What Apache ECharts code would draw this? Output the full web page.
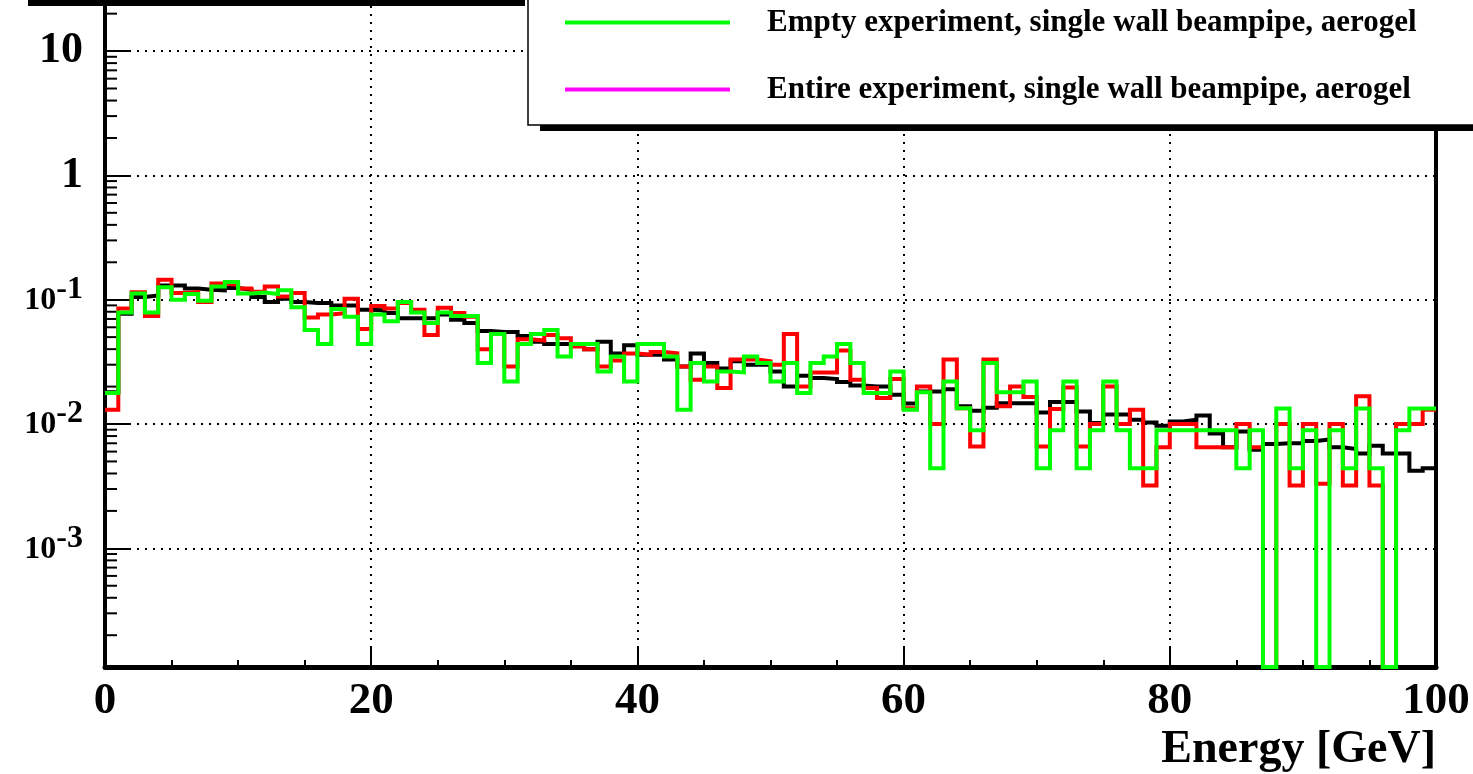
<!DOCTYPE html>
<html lang="en">
<head>
    <meta charset="UTF-8">
    <title>Energy spectrum</title>
    <script src="https://cdn.jsdelivr.net/npm/echarts@6/dist/echarts.min.js"></script>
    <style>
        html, body { margin: 0; padding: 0; background: #fff; }
        #chart { width: 1473px; height: 774px; }
    </style>
</head>
<body>
    <div id="chart"></div>
    <script>
        // per-bin content, 100 bins of 1 GeV from 0 to 100
        const blackHist = [
            0.018, 0.077, 0.105, 0.108, 0.130, 0.130, 0.123, 0.120, 0.119, 0.124,
            0.120, 0.105, 0.096, 0.102, 0.096, 0.094, 0.094, 0.090, 0.090, 0.083,
            0.082, 0.078, 0.071, 0.071, 0.071, 0.076, 0.069, 0.065, 0.056, 0.055,
            0.055, 0.051, 0.046, 0.044, 0.044, 0.043, 0.040, 0.046, 0.037, 0.043,
            0.036, 0.036, 0.033, 0.029, 0.037, 0.031, 0.028, 0.032, 0.030, 0.030,
            0.0265, 0.020, 0.0244, 0.0234, 0.023, 0.0218, 0.0204, 0.020, 0.020, 0.0172,
            0.0146, 0.0183, 0.0183, 0.019, 0.0139, 0.0128, 0.0135, 0.0147, 0.0147, 0.0147,
            0.0124, 0.0150, 0.0150, 0.0126, 0.0102, 0.0119, 0.0119, 0.0108, 0.0103, 0.0097,
            0.0105, 0.0108, 0.0117, 0.0084, 0.0065, 0.0087, 0.0062, 0.0069, 0.0070, 0.0070,
            0.0073, 0.0075, 0.0065, 0.0063, 0.0058, 0.0067, 0.0058, 0.0058, 0.0042, 0.0044
        ]
        const redHist = [
            0.013, 0.085, 0.115, 0.074, 0.145, 0.113, 0.115, 0.096, 0.135, 0.132,
            0.123, 0.116, 0.128, 0.106, 0.113, 0.072, 0.076, 0.078, 0.102, 0.058,
            0.089, 0.085, 0.094, 0.083, 0.052, 0.086, 0.078, 0.073, 0.040, 0.053,
            0.029, 0.048, 0.047, 0.052, 0.049, 0.042, 0.040, 0.029, 0.0325, 0.037,
            0.036, 0.038, 0.037, 0.029, 0.0227, 0.029, 0.0195, 0.033, 0.033, 0.032,
            0.030, 0.053, 0.020, 0.026, 0.026, 0.039, 0.0227, 0.0195, 0.0162, 0.023,
            0.0134, 0.020, 0.010, 0.033, 0.0134, 0.0066, 0.033, 0.0139, 0.020, 0.0165,
            0.0066, 0.0132, 0.0197, 0.0066, 0.010, 0.020, 0.010, 0.013, 0.0032, 0.0065,
            0.010, 0.010, 0.0065, 0.0065, 0.0065, 0.010, 0.0065, 0, 0.010, 0.0032,
            0.010, 0.0033, 0.010, 0.0032, 0.0167, 0.0032, 0, 0.010, 0.010, 0.013
        ]
        const greenHist = [
            0.0178, 0.079, 0.112, 0.079, 0.126, 0.100, 0.111, 0.098, 0.128, 0.139,
            0.112, 0.114, 0.111, 0.119, 0.087, 0.057, 0.044, 0.084, 0.073, 0.044,
            0.076, 0.067, 0.096, 0.079, 0.065, 0.079, 0.074, 0.074, 0.031, 0.053,
            0.022, 0.044, 0.053, 0.057, 0.035, 0.044, 0.044, 0.0265, 0.035, 0.022,
            0.044, 0.044, 0.035, 0.013, 0.031, 0.022, 0.0265, 0.026, 0.035, 0.031,
            0.022, 0.031, 0.0178, 0.031, 0.035, 0.044, 0.031, 0.0178, 0.0178, 0.0265,
            0.013, 0.018, 0.0044, 0.022, 0.0134, 0.0089, 0.031, 0.018, 0.018, 0.022,
            0.0044, 0.0089, 0.022, 0.0044, 0.0089, 0.022, 0.0089, 0.0044, 0.0044, 0.0089,
            0.0089, 0.0089, 0.0089, 0.0089, 0.0089, 0.0044, 0.0089, 0, 0.0133, 0.0044,
            0.0089, 0, 0.0089, 0.0044, 0.0133, 0.0044, 0, 0.0089, 0.0133, 0.0133
        ]
        const magentaHist = []

        const greenName = "Empty experiment, single wall beampipe, aerogel"
        const magentaName = "Entire experiment, single wall beampipe, aerogel"

        const xTicks = [0, 20, 40, 60, 80, 100]
        const yMin = 1.11e-4
        const yMax = 31
        const minorMantissa = [2, 3, 4, 5, 6, 7, 8, 9]
        const decades = [-4, -3, -2, -1, 0, 1]

        const FONT = "Liberation Serif"

        // step outline: hold each bin value until the next edge, empty bins sit on the frame
        function histPoints(vals) {
            if (!vals.length) return []
            const pts = vals.map((v, i) => [i, v > 0 ? v : yMin])
            pts.push([vals.length, pts[pts.length - 1][1]])
            return pts
        }

        const minorTickVals = []
        decades.forEach(d => minorMantissa.forEach(m => {
            const v = m * Math.pow(10, d)
            if (v > yMin && v < yMax) minorTickVals.push([0, v])
        }))

        function histSeries(name, vals, color) {
            return {
                name: name,
                type: "line",
                step: "end",
                data: histPoints(vals),
                showSymbol: false,
                symbol: "none",
                clip: true,
                lineStyle: { color: color, width: 4, join: "miter" },
                itemStyle: { color: color },
                emphasis: { disabled: true }
            }
        }

        const chart = echarts.init(document.getElementById("chart"), null, { renderer: "canvas" })
        chart.setOption({
            animation: false,
            backgroundColor: "#fff",
            grid: {
                left: 105, right: 37, top: -10, bottom: 107,
                show: true, borderColor: "#000", borderWidth: 4,
                containLabel: false, outerBoundsMode: "none"
            },
            legend: {
                data: [greenName, magentaName],
                orient: "vertical",
                left: 528,
                top: -33,
                padding: [40, 90, 20, 37],
                itemGap: 36,
                itemWidth: 165,
                itemHeight: 4,
                icon: "rect",
                selectedMode: false,
                backgroundColor: "#fff",
                borderColor: "#000",
                borderWidth: 1.5,
                z: 4,
                textStyle: {
                    fontFamily: FONT, fontWeight: "bold", fontSize: 31,
                    color: "#000", lineHeight: 30, padding: [0, 0, 0, 32]
                }
            },
            xAxis: {
                type: "value",
                min: xTicks[0],
                max: xTicks[xTicks.length - 1],
                interval: 20,
                name: "Energy [GeV]",
                nameLocation: "end",
                nameGap: 0,
                nameMoveOverlap: false,
                nameTextStyle: {
                    fontFamily: FONT, fontWeight: "bold", fontSize: 46, color: "#000",
                    align: "right", verticalAlign: "top", padding: [60, 0, 0, 0]
                },
                axisLine: { show: true, lineStyle: { color: "#000", width: 5 } },
                axisTick: { show: true, inside: true, length: 20, lineStyle: { color: "#000", width: 2 } },
                minorTick: { show: true, splitNumber: 4, length: 7, lineStyle: { color: "#000", width: 2 } },
                axisLabel: {
                    fontFamily: FONT, fontWeight: "bold", fontSize: 45, color: "#000", margin: 12
                },
                splitLine: { show: true, lineStyle: { color: "#000", width: 2, type: [2, 6] } }
            },
            yAxis: {
                type: "log",
                logBase: 10,
                min: yMin,
                max: yMax,
                axisLine: { show: true, lineStyle: { color: "#000", width: 3 } },
                axisTick: { show: true, inside: true, length: 24, lineStyle: { color: "#000", width: 2 } },
                axisLabel: {
                    showMinLabel: false,
                    showMaxLabel: false,
                    margin: 22,
                    formatter: v => {
                        const e = Math.round(Math.log10(v))
                        if (e === 1) return "{b|10}"
                        if (e === 0) return "{b|1}"
                        return "{e|10}{s|" + e + "}"
                    },
                    rich: {
                        b: { fontFamily: FONT, fontWeight: "bold", fontSize: 44, color: "#000", lineHeight: 44 },
                        e: { fontFamily: FONT, fontWeight: "bold", fontSize: 32, color: "#000", lineHeight: 34, verticalAlign: "bottom" },
                        s: { fontFamily: FONT, fontWeight: "bold", fontSize: 32, color: "#000", lineHeight: 34, verticalAlign: "bottom", padding: [0, 0, 11, 0] }
                    }
                },
                splitLine: { show: true, lineStyle: { color: "#000", width: 2, type: [2, 6] } }
            },
            graphic: [
                // shadow of the title box above the frame
                { type: "rect", shape: { x: 28, y: 0, width: 497, height: 6 }, style: { fill: "#000" }, z: 100 },
                // drop shadow of the legend box, sits just under the legend
                { type: "rect", shape: { x: 540, y: -40, width: 1000, height: 171 }, style: { fill: "#000" }, z: 3 }
            ],
            series: [
                histSeries("black", blackHist, "#000000"),
                histSeries("red", redHist, "#ff0000"),
                histSeries(greenName, greenHist, "#00ff00"),
                histSeries(magentaName, magentaHist, "#ff00ff"),
                {
                    // log minor ticks at 2..9 x 10^n on the left axis
                    type: "custom",
                    silent: true,
                    clip: true,
                    data: minorTickVals,
                    renderItem: (params, api) => {
                        const p = api.coord([api.value(0), api.value(1)])
                        return {
                            type: "line",
                            shape: { x1: p[0], y1: p[1], x2: p[0] + 12, y2: p[1] },
                            style: { stroke: "#000", lineWidth: 2 }
                        }
                    }
                }
            ]
        })
    </script>
</body>
</html>
